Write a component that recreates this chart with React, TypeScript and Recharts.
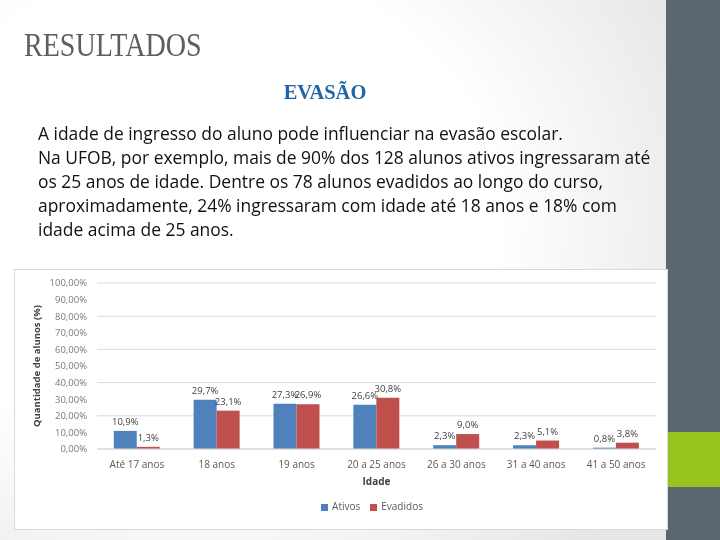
import React from 'react';
import { BarChart, Bar, XAxis, YAxis, CartesianGrid, Legend, LabelList } from 'recharts';

const categories = ['Até 17 anos', '18 anos', '19 anos', '20 a 25 anos', '26 a 30 anos', '31 a 40 anos', '41 a 50 anos'];
const ativos = [10.9, 29.7, 27.3, 26.6, 2.3, 2.3, 0.8];
const evadidos = [1.3, 23.1, 26.9, 30.8, 9.0, 5.1, 3.8];
const yTicks = [0, 10, 20, 30, 40, 50, 60, 70, 80, 90, 100];

const paragraphLines = [
  'A idade de ingresso do aluno pode influenciar na evasão escolar.',
  'Na UFOB, por exemplo, mais de 90% dos 128 alunos ativos ingressaram até',
  'os 25 anos de idade. Dentre os 78 alunos evadidos ao longo do curso,',
  'aproximadamente, 24% ingressaram com idade até 18 anos e 18% com',
  'idade acima de 25 anos.',
];

const chartData = categories.map((name, i) => ({ name, Ativos: ativos[i], Evadidos: evadidos[i] }));

const FONT = '"Open Sans", sans-serif';
const BLUE = '#4f81bd';
const RED = '#c0504d';

const pct2 = (v: number) => `${v.toFixed(2).replace('.', ',')}%`;
const pct1 = (v: number) => `${Number(v).toFixed(1).replace('.', ',')}%`;

const App: React.FC = () => {
  return (
    <div
      style={{
        position: 'fixed',
        left: 0,
        top: 0,
        width: 720,
        height: 540,
        overflow: 'hidden',
        background: 'radial-gradient(ellipse 75% 85% at 28% 40%, #ffffff 55%, #e6e6e6 100%)',
      }}
    >
      {/* right side decoration */}
      <div style={{ position: 'absolute', left: 666, top: 0, width: 54, height: 540, background: '#5c6770' }} />
      <div style={{ position: 'absolute', left: 668, top: 432, width: 52, height: 55, background: '#99c31d' }} />

      <div
        style={{
          position: 'absolute',
          left: 24,
          top: 27,
          fontFamily: '"Liberation Serif", serif',
          fontSize: 33,
          lineHeight: '36px',
          color: '#5e5e5e',
          transform: 'scaleX(0.85)',
          transformOrigin: 'left top',
          whiteSpace: 'nowrap',
        }}
      >
        RESULTADOS
      </div>

      <div
        style={{
          position: 'absolute',
          left: 225,
          width: 200,
          top: 79,
          textAlign: 'center',
          fontFamily: '"Liberation Serif", serif',
          fontWeight: 'bold',
          fontSize: 22,
          lineHeight: '26px',
          color: '#2165a6',
          transform: 'scaleX(0.93)',
        }}
      >
        EVASÃO
      </div>

      <div
        style={{
          position: 'absolute',
          left: 38,
          top: 121,
          fontFamily: FONT,
          fontSize: 18,
          lineHeight: '24px',
          color: '#111111',
          transform: 'scaleX(0.968)',
          transformOrigin: 'left top',
          whiteSpace: 'nowrap',
        }}
      >
        {paragraphLines.map((l, i) => (
          <div key={i}>{l}</div>
        ))}
      </div>

      <div
        style={{
          position: 'absolute',
          left: 14,
          top: 269,
          width: 654,
          height: 261,
          background: '#ffffff',
          boxSizing: 'border-box',
          border: '1px solid #d9d9d9',
          fontFamily: FONT,
        }}
      >
        <BarChart
          width={652}
          height={259}
          data={chartData}
          margin={{ top: 13, right: 11, left: 0, bottom: 40 }}
          barCategoryGap="21%"
          barGap={0}
        >
          <CartesianGrid vertical={false} stroke="#d9d9d9" />
          <XAxis
            dataKey="name"
            axisLine={{ stroke: '#d9d9d9' }}
            tickLine={false}
            tick={{ fontSize: 10, fill: '#595959' }}
            tickMargin={6}
            height={40}
            interval={0}
            label={{
              value: 'Idade',
              position: 'insideBottom',
              offset: 4,
              style: { fontSize: 10, fontWeight: 'bold', fill: '#404040' },
            }}
          />
          <YAxis
            width={82}
            domain={[0, 100]}
            ticks={yTicks}
            axisLine={false}
            tickLine={false}
            tickSize={0}
            tickMargin={10}
            tickFormatter={pct2}
            tick={{ fontSize: 9.5, fill: '#7a7a7a' }}
            label={{
              value: 'Quantidade de alunos (%)',
              angle: -90,
              position: 'insideLeft',
              offset: 22,
              style: { fontSize: 9.5, fontWeight: 'bold', fill: '#404040', textAnchor: 'middle' },
            }}
          />
          <Legend
            verticalAlign="middle"
            align="center"
            layout="horizontal"
            iconType="square"
            iconSize={7}
            wrapperStyle={{ top: 229, left: 82, width: 560, fontSize: 10, lineHeight: '14px' }}
            formatter={(value: string) => <span style={{ color: '#595959' }}>{value}</span>}
          />
          <Bar dataKey="Ativos" fill={BLUE} isAnimationActive={false}>
            <LabelList dataKey="Ativos" position="top" offset={6} formatter={pct1} style={{ fontSize: 9.5, fill: '#404040' }} />
          </Bar>
          <Bar dataKey="Evadidos" fill={RED} isAnimationActive={false}>
            <LabelList dataKey="Evadidos" position="top" offset={6} formatter={pct1} style={{ fontSize: 9.5, fill: '#404040' }} />
          </Bar>
        </BarChart>
      </div>
    </div>
  );
};

export default App;
